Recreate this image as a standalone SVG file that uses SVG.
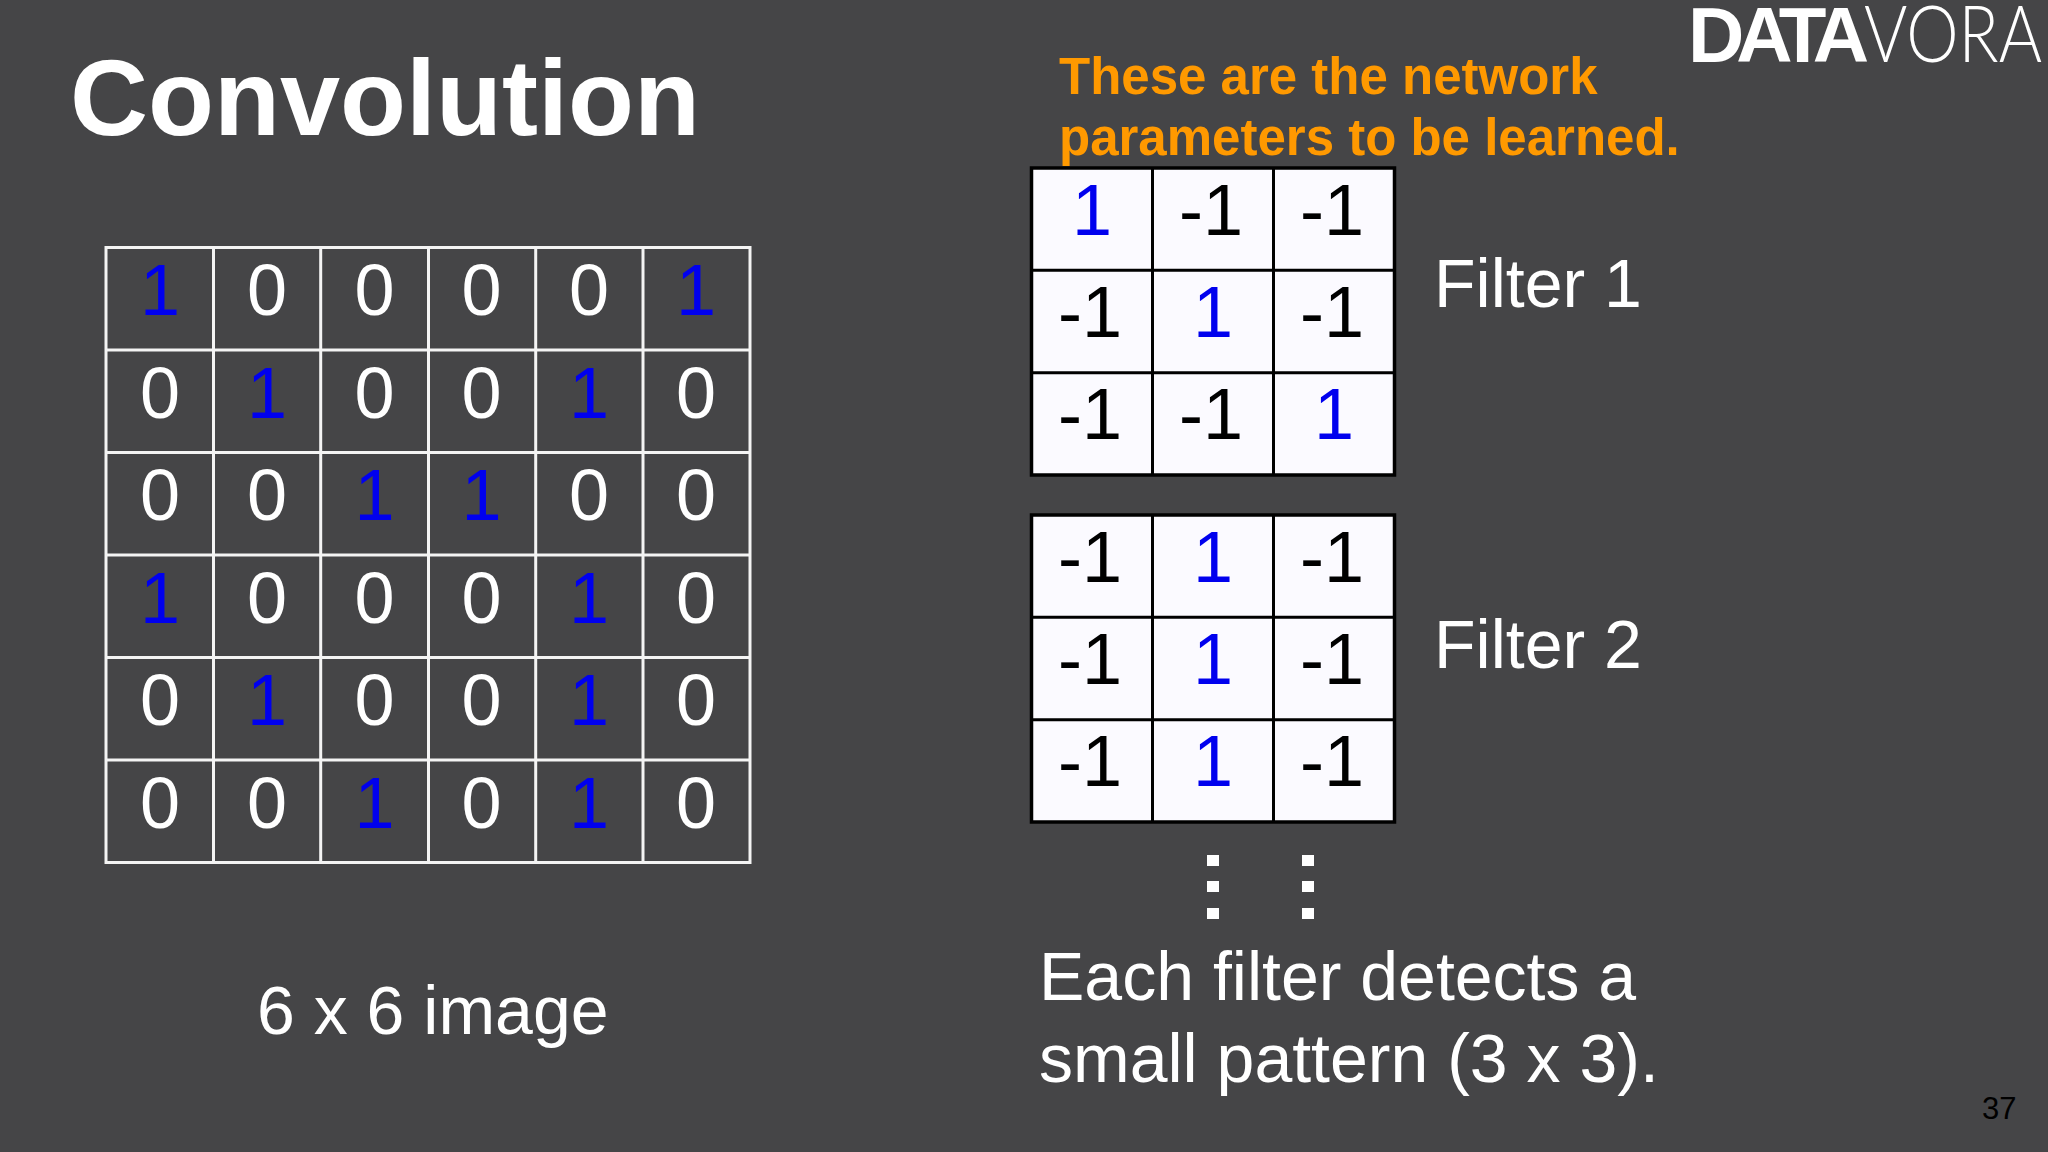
<svg xmlns="http://www.w3.org/2000/svg" width="2048" height="1152" viewBox="0 0 2048 1152">
<style>
text{font-family:"Liberation Sans",Arial,sans-serif}
.bg{fill:#454547}
.g6{fill:none;stroke:#f4f4f4;stroke-width:3}
.g3{fill:#fbfaff;stroke:#000;stroke-width:3.5}
.gl{fill:none;stroke:#000;stroke-width:3}
.d{font-size:72px;text-anchor:middle}
.w{fill:#fff}.b{fill:#0000ee}.k{fill:#000}
.lab{font-size:68px;fill:#fff}
.or{font-size:51px;font-weight:700;fill:#ff9900}
.dot{fill:#fff}
</style>
<rect class="bg" width="2048" height="1152"/>
<g id="title"><text x="70" y="135" font-size="108" font-weight="700" fill="#fff">Convolution</text></g>
<g id="logo">
<text y="62" font-size="78" fill="#fff"><tspan x="1688" font-weight="700" letter-spacing="-8">DATA</tspan><tspan x="1864" font-weight="300" style="font-family:Lato,'Liberation Sans',sans-serif" textLength="178" lengthAdjust="spacingAndGlyphs">VORA</tspan></text>
</g>
<g id="note">
<text class="or" x="1059" y="94">These are the network</text>
<text class="or" x="1059" y="155">parameters to be learned.</text>
</g>
<g id="image-grid">
<rect class="g6" x="106" y="247.500" width="644" height="615"/>
<path class="g6" d="M213.5 247.500V862.500M320.7 247.500V862.500M428.500 247.500V862.500M535.700 247.500V862.500M643 247.500V862.500M106 350H750M106 452.500H750M106 555H750M106 657.500H750M106 760H750"/>
<g class="d">
<text class="b" x="160" y="315">1</text><text class="w" x="267" y="315">0</text><text class="w" x="374.500" y="315">0</text><text class="w" x="481.500" y="315">0</text><text class="w" x="589" y="315">0</text><text class="b" x="696" y="315">1</text>
<text class="w" x="160" y="417.500">0</text><text class="b" x="267" y="417.500">1</text><text class="w" x="374.500" y="417.500">0</text><text class="w" x="481.500" y="417.500">0</text><text class="b" x="589" y="417.500">1</text><text class="w" x="696" y="417.500">0</text>
<text class="w" x="160" y="520">0</text><text class="w" x="267" y="520">0</text><text class="b" x="374.500" y="520">1</text><text class="b" x="481.500" y="520">1</text><text class="w" x="589" y="520">0</text><text class="w" x="696" y="520">0</text>
<text class="b" x="160" y="622.500">1</text><text class="w" x="267" y="622.500">0</text><text class="w" x="374.500" y="622.500">0</text><text class="w" x="481.500" y="622.500">0</text><text class="b" x="589" y="622.500">1</text><text class="w" x="696" y="622.500">0</text>
<text class="w" x="160" y="725">0</text><text class="b" x="267" y="725">1</text><text class="w" x="374.500" y="725">0</text><text class="w" x="481.500" y="725">0</text><text class="b" x="589" y="725">1</text><text class="w" x="696" y="725">0</text>
<text class="w" x="160" y="827.500">0</text><text class="w" x="267" y="827.500">0</text><text class="b" x="374.500" y="827.500">1</text><text class="w" x="481.500" y="827.500">0</text><text class="b" x="589" y="827.500">1</text><text class="w" x="696" y="827.500">0</text>
</g>
</g>
<g id="image-label"><text class="lab" x="257" y="1034">6 x 6 image</text></g>
<g id="filter-1">
<rect class="g3" x="1031.500" y="168" width="363" height="307"/>
<path class="gl" d="M1152.500 168V475M1273.500 168V475M1031.500 270.300H1394.500M1031.500 372.700H1394.500"/>
<g class="d">
<text class="b" x="1092" y="235">1</text><text class="k" x="1211" y="235">-1</text><text class="k" x="1332" y="235">-1</text>
<text class="k" x="1090" y="337">-1</text><text class="b" x="1213" y="337">1</text><text class="k" x="1332" y="337">-1</text>
<text class="k" x="1090" y="439">-1</text><text class="k" x="1211" y="439">-1</text><text class="b" x="1334" y="439">1</text>
</g>
</g>
<g id="filter-1-label"><text class="lab" x="1434" y="307">Filter 1</text></g>
<g id="filter-2">
<rect class="g3" x="1031.500" y="515" width="363" height="307"/>
<path class="gl" d="M1152.500 515V822M1273.500 515V822M1031.500 617.300H1394.500M1031.500 719.700H1394.500"/>
<g class="d">
<text class="k" x="1090" y="582">-1</text><text class="b" x="1213" y="582">1</text><text class="k" x="1332" y="582">-1</text>
<text class="k" x="1090" y="684">-1</text><text class="b" x="1213" y="684">1</text><text class="k" x="1332" y="684">-1</text>
<text class="k" x="1090" y="786">-1</text><text class="b" x="1213" y="786">1</text><text class="k" x="1332" y="786">-1</text>
</g>
</g>
<g id="filter-2-label"><text class="lab" x="1434" y="668">Filter 2</text></g>
<g id="more-dots">
<rect class="dot" x="1207" y="855" width="12" height="11"/><rect class="dot" x="1207" y="881" width="12" height="11"/><rect class="dot" x="1207" y="908" width="12" height="11"/>
<rect class="dot" x="1302" y="855" width="12" height="11"/><rect class="dot" x="1302" y="881" width="12" height="11"/><rect class="dot" x="1302" y="908" width="12" height="11"/>
</g>
<g id="caption">
<text class="lab" x="1039" y="1000">Each filter detects a</text>
<text class="lab" x="1039" y="1082">small pattern (3 x 3).</text>
</g>
<g id="page-number"><text x="1982" y="1119" font-size="31" fill="#000">37</text></g>
</svg>
